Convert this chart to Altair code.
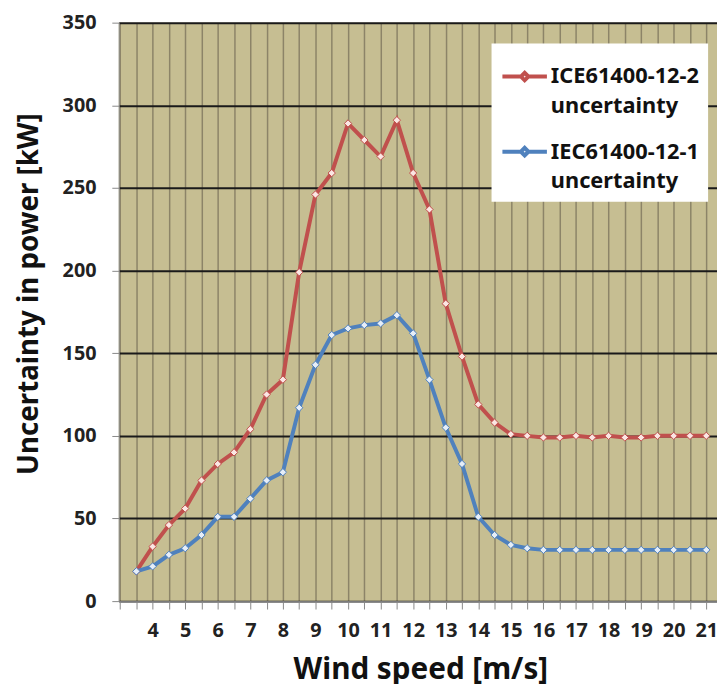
import altair as alt
import pandas as pd

wind_speed = [3.5, 4, 4.5, 5, 5.5, 6, 6.5, 7, 7.5, 8, 8.5, 9, 9.5, 10, 10.5, 11, 11.5, 12,
              12.5, 13, 13.5, 14, 14.5, 15, 15.5, 16, 16.5, 17, 17.5, 18, 18.5, 19, 19.5,
              20, 20.5, 21]
ice_12_2 = [18, 33, 46, 56, 73, 83, 90, 104, 125, 134, 199, 246, 259, 289, 279, 269, 291, 259,
            237, 180, 148, 119, 108, 101, 100, 99, 99, 100, 99, 100, 99, 99, 100, 100, 100, 100]
iec_12_1 = [18, 21, 28, 32, 40, 51, 51, 62, 73, 78, 117, 143, 161, 165, 167, 168, 173, 162,
            134, 105, 83, 51, 40, 34, 32, 31, 31, 31, 31, 31, 31, 31, 31, 31, 31, 31]

series_names = ["ICE61400-12-2 uncertainty", "IEC61400-12-1 uncertainty"]
series_colors = ["#C0504D", "#4F81BD"]
marker_fills = ["#FBE6E3", "#E6EEF8"]
x_ticks = [3 + 0.5 * i for i in range(37)]
y_ticks = [0, 50, 100, 150, 200, 250, 300, 350]

rows = []
for name, vals in zip(series_names, [ice_12_2, iec_12_1]):
    for ws, v in zip(wind_speed, vals):
        rows.append({"ws": ws, "val": v, "series": name})
df = pd.DataFrame(rows)

FONT = "Noto Sans"

x_enc = alt.X("ws:Q",
              scale=alt.Scale(domain=[2.96, 21.33], nice=False, zero=False),
              axis=alt.Axis(values=x_ticks, tickCount=60, labelOverlap=False,
                            labelExpr="datum.value % 1 == 0 && datum.value >= 4 ? datum.value : ''",
                            title="Wind speed [m/s]",
                            grid=True, gridColor="#8C8468", gridWidth=1.5,
                            tickSize=8, tickColor="#888888", domainColor="#888888",
                            labelPadding=12, labelFontSize=20, labelFontWeight="bold",
                            labelColor="#222222", labelFont=FONT,
                            titleFont=FONT, titleFontSize=30, titleFontWeight="bold",
                            titleColor="#111111", titleX=305, titleY=78,
                            titleBaseline="alphabetic", titleAlign="center"))
y_enc = alt.Y("val:Q",
              scale=alt.Scale(domain=[0, 350], nice=False),
              axis=alt.Axis(values=y_ticks, title="Uncertainty in power [kW]",
                            grid=True, gridColor="#1A1A1A", gridWidth=2,
                            tickSize=7, tickColor="#888888", domainColor="#888888",
                            labelPadding=16, labelFontSize=20, labelFontWeight="bold",
                            labelColor="#222222", labelFont=FONT,
                            titleFont=FONT, titleFontSize=28, titleFontWeight="bold",
                            titleColor="#111111", titleX=-90, titleY=274,
                            titleAngle=-90, titleBaseline="middle", titleAlign="center"))

legend_path = "M-1,0L-0.17,0M0.17,0L1,0M-0.17,0L0,-0.17L0.17,0L0,0.17Z"

lines = alt.Chart(df).mark_line(strokeWidth=4).encode(
    x=x_enc, y=y_enc,
    color=alt.Color("series:N",
                    scale=alt.Scale(domain=series_names, range=series_colors),
                    legend=alt.Legend(orient="none", legendX=377, legendY=21,
                                      title=None, fillColor="white", padding=9,
                                      symbolType=legend_path, symbolSize=2025,
                                      symbolStrokeWidth=4, symbolFillColor="white",
                                      labelExpr="split(datum.label, ' ')",
                                      labelFont=FONT, labelFontSize=22,
                                      labelFontWeight="bold", labelColor="#111111",
                                      labelLimit=300,
                                      labelOffset=2, rowPadding=10))
)

points = alt.Chart(df).mark_point(shape="diamond", filled=True, size=55,
                                  strokeWidth=1, opacity=1).encode(
    x="ws:Q", y="val:Q",
    fill=alt.Fill("series:N", scale=alt.Scale(domain=series_names, range=marker_fills),
                  legend=None),
    stroke=alt.Stroke("series:N", scale=alt.Scale(domain=series_names, range=series_colors),
                      legend=None),
)

chart = (lines + points).properties(
    width=605, height=585,
    autosize=alt.AutoSizeParams(type="none"),
    padding={"left": 112, "top": 11, "right": 0, "bottom": 80},
    background="white",
).configure(
    style={"guide-label": {"lineHeight": 30}}
).configure_view(fill="#C6BE92", stroke=None)

chart.save("out.html", embed_options={"renderer": "svg", "actions": False})
